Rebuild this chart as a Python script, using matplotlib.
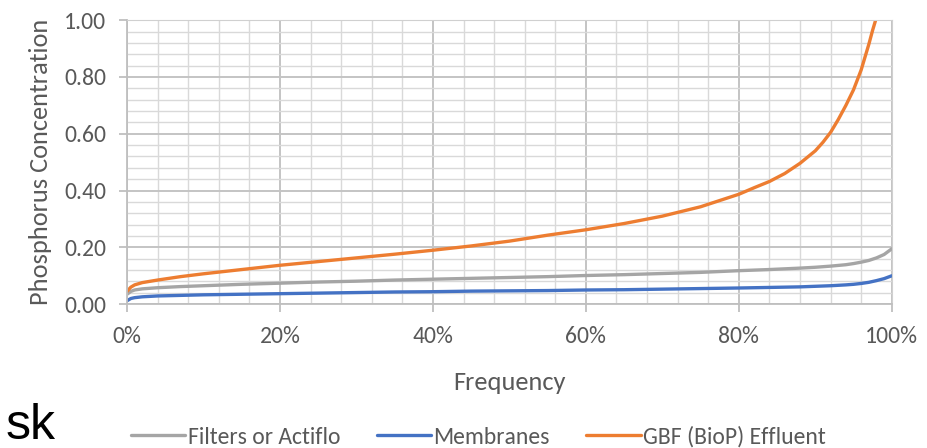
import matplotlib
matplotlib.use("Agg")
import matplotlib.pyplot as plt
from matplotlib.ticker import MultipleLocator, FuncFormatter

plt.rcParams['font.family'] = ['Carlito', 'Lato', 'DejaVu Sans']

# cumulative frequency (%) and phosphorus concentration
freq = [0, 0.5, 1, 2, 4, 7, 10, 15, 20, 25, 30, 35, 40, 45, 50, 55, 60, 65,
        70, 75, 80, 84, 88, 90, 92, 94, 95, 96, 97, 98, 99, 100]
filters = [0.035, 0.045, 0.050, 0.054, 0.058, 0.062, 0.065, 0.070, 0.074, 0.078,
           0.081, 0.085, 0.088, 0.091, 0.094, 0.097, 0.101, 0.104, 0.108, 0.112,
           0.118, 0.122, 0.127, 0.130, 0.134, 0.139, 0.143, 0.148, 0.154, 0.163,
           0.175, 0.195]
membranes = [0.012, 0.020, 0.023, 0.026, 0.029, 0.031, 0.033, 0.035, 0.037, 0.039,
             0.041, 0.043, 0.044, 0.046, 0.047, 0.048, 0.050, 0.051, 0.053, 0.055,
             0.057, 0.059, 0.061, 0.063, 0.065, 0.068, 0.070, 0.073, 0.077, 0.083,
             0.090, 0.100]
gbf_freq = [0, 0.5, 1, 2, 4, 7, 10, 15, 20, 25, 30, 35, 40, 45, 50, 55, 60, 65,
            70, 75, 80, 82, 84, 86, 88, 90, 91, 92, 93, 94, 95, 96, 97, 97.5,
            98, 98.5]
gbf = [0.045, 0.060, 0.068, 0.076, 0.085, 0.097, 0.107, 0.122, 0.137, 0.150,
       0.163, 0.176, 0.190, 0.205, 0.222, 0.243, 0.262, 0.284, 0.310, 0.343,
       0.387, 0.410, 0.432, 0.460, 0.496, 0.540, 0.570, 0.605, 0.650, 0.700,
       0.755, 0.825, 0.915, 0.965, 1.010, 1.070]

txt = '#595959'

fig = plt.figure(figsize=(9.27, 4.48), dpi=100)
ax = fig.add_axes([0.137, 0.321, 0.825, 0.634])

ax.plot(freq, filters, color='#A5A5A5', lw=2.4, label='Filters or Actiflo',
        solid_capstyle='round')
ax.plot(freq, membranes, color='#4472C4', lw=2.4, label='Membranes',
        solid_capstyle='round')
ax.plot(gbf_freq, gbf, color='#ED7D31', lw=2.4, label='GBF (BioP) Effluent',
        solid_capstyle='round')

ax.set_xlim(0, 100)
ax.set_ylim(0, 1)
ax.xaxis.set_major_locator(MultipleLocator(20))
ax.xaxis.set_minor_locator(MultipleLocator(4))
ax.yaxis.set_major_locator(MultipleLocator(0.2))
ax.yaxis.set_minor_locator(MultipleLocator(0.04))
ax.xaxis.set_major_formatter(FuncFormatter(lambda v, p: f'{v:.0f}%'))
ax.yaxis.set_major_formatter(FuncFormatter(lambda v, p: f'{v:.2f}'))

ax.grid(which='major', color='#c4c4c4', lw=1.4)
ax.grid(which='minor', color='#d9d9d9', lw=1.0)
ax.set_axisbelow(True)

for s in ['top', 'right']:
    ax.spines[s].set_color('#d0d0d0')
for s in ['left', 'bottom']:
    ax.spines[s].set_color('#bfbfbf')
    ax.spines[s].set_linewidth(1.3)

ax.tick_params(which='major', length=6, width=1.3, color='#bfbfbf',
               labelsize=17, labelcolor=txt)
ax.tick_params(which='minor', length=0)
ax.tick_params(axis='y', pad=9)
ax.tick_params(axis='x', pad=10)

ax.set_ylabel('Phosphorus Concentration', fontsize=19, color=txt, labelpad=9)
ax.set_xlabel('Frequency', fontsize=19, color=txt, labelpad=17)

fig.legend(loc='center', bbox_to_anchor=(0.516, 0.025), ncol=3, frameon=False,
           fontsize=17, handlelength=2.3, handletextpad=0.1, columnspacing=1.55,
           labelcolor=txt)

fig.text(0.006, -0.002, 'sk', fontsize=36, color='black', ha='left',
         va='bottom', family='Liberation Sans')

fig.savefig('out.png', dpi=100)
